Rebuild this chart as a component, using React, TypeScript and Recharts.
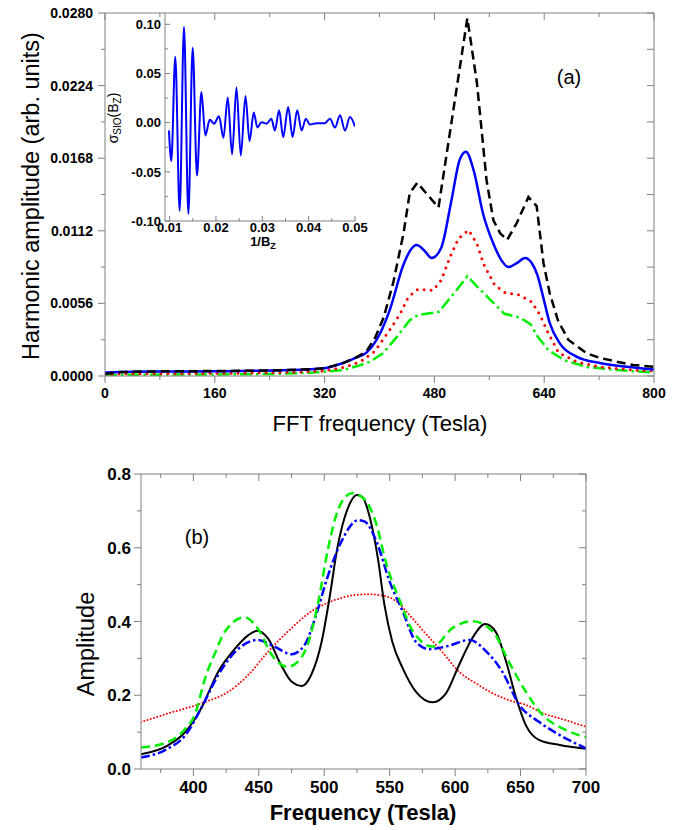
import React from "react";
import { LineChart, Line, XAxis, YAxis } from "recharts";

const FONT = '"Liberation Sans", Arial, Helvetica, sans-serif';
const AX = "#808080";

// ---------- Panel (a): FFT spectra ----------
const aXMajor = [0, 160, 320, 480, 640, 800];
const aXMinor = [80, 240, 400, 560, 720];
const aYMajor = [0, 0.0056, 0.0112, 0.0168, 0.0224, 0.028];
const aYMinor = [0.0028, 0.0084, 0.014, 0.0196, 0.0252];

const fftBlackF = [0, 20, 60, 120, 200, 260, 300, 320, 347, 365, 381, 394, 406, 420, 435, 444, 455, 486, 528, 542, 556, 566, 576, 586, 600, 617, 629, 639, 648, 660, 675, 702, 721, 746, 770, 800];
const fftBlackA = [0.00015, 0.0003, 0.00035, 0.00037, 0.0004, 0.00045, 0.00052, 0.0006, 0.001, 0.0014, 0.0019, 0.003, 0.0045, 0.0072, 0.011, 0.0141, 0.0149, 0.013, 0.0276, 0.0226, 0.0151, 0.012, 0.011, 0.0105, 0.0118, 0.0138, 0.0131, 0.0087, 0.0064, 0.0043, 0.0028, 0.00175, 0.0014, 0.0011, 0.00085, 0.0007];

const fftBlueF = [0, 40, 100, 160, 220, 270, 300, 320, 347, 365, 381, 396, 415, 435, 445, 454, 465, 476, 490, 505, 517, 526, 537, 551, 566, 578, 588, 600, 612, 622, 630, 638, 648, 663, 687, 721, 760, 800];
const fftBlueA = [0.00027, 0.00033, 0.00035, 0.00037, 0.0004, 0.00046, 0.00052, 0.0006, 0.001, 0.0014, 0.0018, 0.0028, 0.0051, 0.0086, 0.0097, 0.0101, 0.0097, 0.0091, 0.0099, 0.0136, 0.0167, 0.0173, 0.0159, 0.0125, 0.0102, 0.0089, 0.0084, 0.0087, 0.0091, 0.0087, 0.0078, 0.0062, 0.0041, 0.0025, 0.0015, 0.001, 0.00072, 0.0005];

const fftRedF = [0, 40, 120, 200, 280, 320, 350, 372, 393, 418, 430, 442, 456, 478, 490, 503, 515, 530, 542, 552, 568, 584, 604, 622, 634, 644, 661, 687, 721, 770, 800];
const fftRedA = [0.00012, 0.00018, 0.0002, 0.00022, 0.0003, 0.0004, 0.0007, 0.0011, 0.0019, 0.0038, 0.0048, 0.0061, 0.0067, 0.0066, 0.0074, 0.0092, 0.0106, 0.01125, 0.0102, 0.0086, 0.007, 0.0064, 0.00625, 0.0057, 0.0047, 0.0035, 0.0018, 0.0011, 0.0007, 0.00046, 0.0004];

const fftGreenF = [0, 60, 160, 240, 300, 347, 370, 386, 405, 425, 444, 456, 487, 498, 512, 528, 546, 563, 582, 605, 620, 631, 646, 670, 702, 746, 800];
const fftGreenA = [0.00008, 0.0001, 0.00012, 0.00015, 0.00025, 0.00046, 0.0008, 0.0011, 0.00175, 0.003, 0.0043, 0.0047, 0.00496, 0.0057, 0.0066, 0.0077, 0.0067, 0.0058, 0.0048, 0.0045, 0.004, 0.003, 0.002, 0.0012, 0.0007, 0.00046, 0.00026];

// ---------- Inset: oscillatory signal ----------
const insXMajor = [0.01, 0.02, 0.03, 0.04, 0.05];
const insXMinor = [0.015, 0.025, 0.035, 0.045];
const insYMajor = [-0.1, -0.05, 0, 0.05, 0.1];
const insYMinor = [-0.075, -0.025, 0.025, 0.075];

const sigB = [0.00985, 0.01036, 0.01122, 0.01216, 0.0131, 0.01404, 0.01497, 0.0159, 0.01685, 0.01771, 0.01865, 0.01958, 0.02066, 0.02161, 0.02254, 0.02348, 0.02442, 0.02535, 0.02637, 0.02723, 0.02815, 0.02895, 0.0298, 0.0309, 0.03196, 0.0327, 0.03363, 0.0345, 0.03558, 0.03653, 0.03753, 0.03847, 0.0394, 0.04027, 0.0417, 0.0435, 0.0446, 0.04568, 0.04676, 0.04784, 0.04892, 0.05];
const sigV = [-0.008, -0.039, 0.067, -0.0895, 0.0976, -0.0929, 0.0762, -0.0538, 0.0312, -0.013, 0.003, -0.001, 0.0064, -0.0153, 0.0255, -0.0323, 0.0357, -0.0334, 0.0272, -0.0188, 0.0102, -0.005, 0.0005, -0.001, 0.004, -0.008, 0.0126, -0.0147, 0.016, -0.0147, 0.0126, -0.008, 0.004, -0.002, -0.0005, -0.0005, 0.004, -0.005, 0.0075, -0.008, 0.0057, -0.004];

// ---------- Panel (b): amplitude vs frequency ----------
const bXMajor = [400, 450, 500, 550, 600, 650, 700];
const bXMinor = [375, 425, 475, 525, 575, 625, 675];
const bYMajor = [0, 0.2, 0.4, 0.6, 0.8];
const bYMinor = [0.1, 0.3, 0.5, 0.7];

const bBlackF = [360, 381, 394, 406, 419, 432, 442, 449, 457, 467, 475, 483, 490, 498, 504, 510, 518, 525, 529, 535, 541, 546, 552, 560, 570, 583, 593, 603, 613, 623, 631, 639, 646, 654, 664, 680, 700];
const bBlackA = [0.04, 0.065, 0.101, 0.165, 0.264, 0.327, 0.363, 0.375, 0.354, 0.282, 0.237, 0.225, 0.255, 0.345, 0.463, 0.599, 0.707, 0.743, 0.738, 0.68, 0.571, 0.445, 0.345, 0.273, 0.21, 0.181, 0.205, 0.282, 0.354, 0.393, 0.372, 0.291, 0.2, 0.119, 0.079, 0.065, 0.055];

const bGreenF = [360, 381, 394, 401, 409, 417, 424, 439, 450, 460, 472, 480, 488, 495, 503, 511, 521, 530, 540, 547, 558, 568, 583, 598, 613, 629, 641, 654, 667, 682, 700];
const bGreenA = [0.058, 0.074, 0.11, 0.146, 0.246, 0.318, 0.372, 0.411, 0.377, 0.309, 0.277, 0.291, 0.345, 0.445, 0.599, 0.707, 0.748, 0.734, 0.662, 0.562, 0.454, 0.372, 0.332, 0.382, 0.401, 0.372, 0.291, 0.21, 0.146, 0.11, 0.086];

const bBlueF = [360, 381, 394, 406, 419, 432, 449, 462, 475, 485, 493, 503, 513, 526, 531, 540, 550, 560, 570, 580, 593, 611, 624, 636, 649, 664, 680, 700];
const bBlueA = [0.031, 0.056, 0.092, 0.165, 0.255, 0.318, 0.35, 0.332, 0.311, 0.336, 0.409, 0.526, 0.616, 0.675, 0.671, 0.616, 0.508, 0.427, 0.345, 0.325, 0.332, 0.35, 0.318, 0.264, 0.174, 0.128, 0.092, 0.056];

const bRedF = [360, 381, 406, 427, 442, 457, 472, 490, 508, 520, 533, 545, 555, 565, 578, 590, 603, 616, 629, 641, 654, 667, 680, 700];
const bRedA = [0.127, 0.151, 0.178, 0.21, 0.255, 0.318, 0.372, 0.427, 0.458, 0.47, 0.474, 0.47, 0.455, 0.418, 0.365, 0.318, 0.264, 0.232, 0.205, 0.187, 0.174, 0.151, 0.137, 0.115];

const zip = (f: number[], a: number[]) => f.map((x, i) => ({ f: x, v: a[i] }));
const sorted = (a: number[], b: number[]) => [...a, ...b].sort((p, q) => p - q);

type Side = "bottom" | "left" | "top" | "right";
type TickOpts = { len: number; minor: number; inward?: boolean; fmt?: (v: number) => string; size?: number; gap?: number };

function tickRenderer(side: Side, majors: number[], o: TickOpts) {
  return (props: any) => {
    const { x, y, payload } = props;
    const v = Number(payload?.value);
    const isMajor = majors.some((m) => Math.abs(m - v) < 1e-9);
    const L = isMajor ? o.len : o.minor;
    const dir = o.inward ? -1 : 1;
    let x2 = x;
    let y2 = y;
    if (side === "bottom") y2 = y + dir * L;
    else if (side === "top") y2 = y - dir * L;
    else if (side === "left") x2 = x - dir * L;
    else x2 = x + dir * L;
    const out = o.inward ? 0 : L;
    const gap = o.gap ?? 4;
    let label: any = null;
    if (isMajor && o.fmt) {
      const common = { fontFamily: FONT, fontSize: o.size, fontWeight: 700, fill: "#000" };
      if (side === "bottom")
        label = (
          <text x={x} y={y + out + gap} dy="0.72em" textAnchor="middle" {...common}>
            {o.fmt(v)}
          </text>
        );
      else if (side === "left")
        label = (
          <text x={x - out - gap} y={y} dy="0.36em" textAnchor="end" {...common}>
            {o.fmt(v)}
          </text>
        );
    }
    return (
      <g>
        <line x1={x} y1={y} x2={x2} y2={y2} stroke={AX} strokeWidth={1} />
        {label}
      </g>
    );
  };
}

const axisCommon = {
  tickSize: 0,
  tickMargin: 0,
  tickLine: false,
  interval: 0 as const,
  allowDataOverflow: true,
  axisLine: { stroke: AX, strokeWidth: 1 },
};

const Label = ({ x, y, size, bold, rot, children }: any) => (
  <div
    style={{
      position: "absolute",
      left: x,
      top: y,
      transform: `translate(-50%, -50%)${rot ? " rotate(-90deg)" : ""}`,
      fontFamily: FONT,
      fontSize: size,
      fontWeight: bold ? 700 : 400,
      whiteSpace: "nowrap",
      lineHeight: 1,
      color: "#000",
    }}
  >
    {children}
  </div>
);

export default function App() {
  const aXT = sorted(aXMajor, aXMinor);
  const aYT = sorted(aYMajor, aYMinor);
  const iXT = sorted(insXMajor, insXMinor);
  const iYT = sorted(insYMajor, insYMinor);
  const bXT = sorted(bXMajor, bXMinor);
  const bYT = sorted(bYMajor, bYMinor);

  return (
    <div style={{ position: "absolute", left: 0, top: 0, width: 682, height: 830, background: "#fff" }}>
      {/* Panel (a) */}
      <div style={{ position: "absolute", left: 0, top: 0 }}>
        <LineChart width={682} height={440} margin={{ top: 13, right: 28, bottom: 34, left: 45 }}>
          <XAxis
            {...axisCommon}
            dataKey="f"
            type="number"
            domain={[0, 800]}
            ticks={aXT}
            height={30}
            tick={tickRenderer("bottom", aXMajor, { len: 7, minor: 4, fmt: (v) => String(v), size: 14, gap: 5 })}
          />
          <XAxis
            {...axisCommon}
            xAxisId="t"
            orientation="top"
            mirror
            dataKey="f"
            type="number"
            domain={[0, 800]}
            ticks={aXT}
            tick={tickRenderer("top", aXMajor, { len: 7, minor: 4, inward: true })}
          />
          <YAxis
            {...axisCommon}
            type="number"
            domain={[0, 0.028]}
            ticks={aYT}
            width={60}
            tick={tickRenderer("left", aYMajor, { len: 7, minor: 4, fmt: (v) => v.toFixed(4), size: 14, gap: 5 })}
          />
          <YAxis
            {...axisCommon}
            yAxisId="r"
            orientation="right"
            mirror
            type="number"
            domain={[0, 0.028]}
            ticks={aYT}
            tick={tickRenderer("right", aYMajor, { len: 7, minor: 7, inward: true })}
          />
          <Line data={zip(fftGreenF, fftGreenA)} dataKey="v" type="linear" stroke="#00ee00" strokeWidth={2.5} strokeDasharray="12 4 2.5 4" dot={false} activeDot={false} isAnimationActive={false} />
          <Line data={zip(fftRedF, fftRedA)} dataKey="v" type="linear" stroke="#ff0000" strokeWidth={3} strokeLinecap="round" strokeDasharray="0 7" dot={false} activeDot={false} isAnimationActive={false} />
          <Line data={zip(fftBlueF, fftBlueA)} dataKey="v" type="monotone" stroke="#0000ff" strokeWidth={2.5} dot={false} activeDot={false} isAnimationActive={false} />
          <Line data={zip(fftBlackF, fftBlackA)} dataKey="v" type="linear" stroke="#000000" strokeWidth={2.5} strokeDasharray="9 5" dot={false} activeDot={false} isAnimationActive={false} />
        </LineChart>
      </div>

      {/* Inset */}
      <div style={{ position: "absolute", left: 0, top: 0 }}>
        <LineChart width={682} height={250} margin={{ top: 13, right: 327, bottom: 9, left: 105 }}>
          <XAxis
            {...axisCommon}
            dataKey="f"
            type="number"
            domain={[0.009, 0.05]}
            ticks={iXT}
            height={20}
            tick={tickRenderer("bottom", insXMajor, { len: 5, minor: 3, inward: true, fmt: (v) => v.toFixed(2), size: 13, gap: 2 })}
          />
          <YAxis
            {...axisCommon}
            type="number"
            domain={[-0.1, 0.1115]}
            ticks={iYT}
            width={60}
            tick={tickRenderer("left", insYMajor, { len: 5, minor: 3, inward: true, fmt: (v) => v.toFixed(2), size: 13, gap: 4 })}
          />
          <Line data={zip(sigB, sigV)} dataKey="v" type="monotone" stroke="#0000ff" strokeWidth={2} dot={false} activeDot={false} isAnimationActive={false} />
        </LineChart>
      </div>

      {/* Panel (b) */}
      <div style={{ position: "absolute", left: 0, top: 440 }}>
        <LineChart width={682} height={390} margin={{ top: 34, right: 96, bottom: 31, left: 81 }}>
          <XAxis
            {...axisCommon}
            dataKey="f"
            type="number"
            domain={[360, 700]}
            ticks={bXT}
            height={30}
            tick={tickRenderer("bottom", bXMajor, { len: 7, minor: 4, fmt: (v) => String(v), size: 17, gap: 5 })}
          />
          <XAxis
            {...axisCommon}
            xAxisId="t"
            orientation="top"
            mirror
            dataKey="f"
            type="number"
            domain={[360, 700]}
            ticks={bXT}
            tick={tickRenderer("top", bXMajor, { len: 7, minor: 4, inward: true })}
          />
          <YAxis
            {...axisCommon}
            type="number"
            domain={[0, 0.8]}
            ticks={bYT}
            width={60}
            tick={tickRenderer("left", bYMajor, { len: 7, minor: 4, fmt: (v) => v.toFixed(1), size: 17, gap: 3 })}
          />
          <YAxis
            {...axisCommon}
            yAxisId="r"
            orientation="right"
            mirror
            type="number"
            domain={[0, 0.8]}
            ticks={bYT}
            tick={tickRenderer("right", bYMajor, { len: 7, minor: 4, inward: true })}
          />
          <Line data={zip(bRedF, bRedA)} dataKey="v" type="monotone" stroke="#ff0000" strokeWidth={2} strokeLinecap="round" strokeDasharray="0 3.4" dot={false} activeDot={false} isAnimationActive={false} />
          <Line data={zip(bBlackF, bBlackA)} dataKey="v" type="monotone" stroke="#000000" strokeWidth={2} dot={false} activeDot={false} isAnimationActive={false} />
          <Line data={zip(bBlueF, bBlueA)} dataKey="v" type="monotone" stroke="#0000ff" strokeWidth={2.5} strokeDasharray="9 3 2.5 3" dot={false} activeDot={false} isAnimationActive={false} />
          <Line data={zip(bGreenF, bGreenA)} dataKey="v" type="monotone" stroke="#00ee00" strokeWidth={2.5} strokeDasharray="9 5" dot={false} activeDot={false} isAnimationActive={false} />
        </LineChart>
      </div>

      {/* Text labels */}
      <Label x={32} y={196} size={23.5} rot>
        Harmonic amplitude (arb. units)
      </Label>
      <Label x={380} y={424} size={22}>
        FFT frequency (Tesla)
      </Label>
      <Label x={569} y={77} size={20}>
        (a)
      </Label>
      <Label x={114} y={118} size={14} rot>
        σ<span style={{ fontSize: 10, verticalAlign: "-0.3em" }}>SIO</span>(B<span style={{ fontSize: 10, verticalAlign: "-0.3em" }}>Z</span>)
      </Label>
      <Label x={263} y={243} size={13} bold>
        1/B<span style={{ fontSize: 9, verticalAlign: "-0.3em" }}>Z</span>
      </Label>
      <Label x={197} y={537} size={20}>
        (b)
      </Label>
      <Label x={87} y={644} size={23.5} rot>
        Amplitude
      </Label>
      <Label x={363} y={813} size={22} bold>
        Frequency (Tesla)
      </Label>
    </div>
  );
}
